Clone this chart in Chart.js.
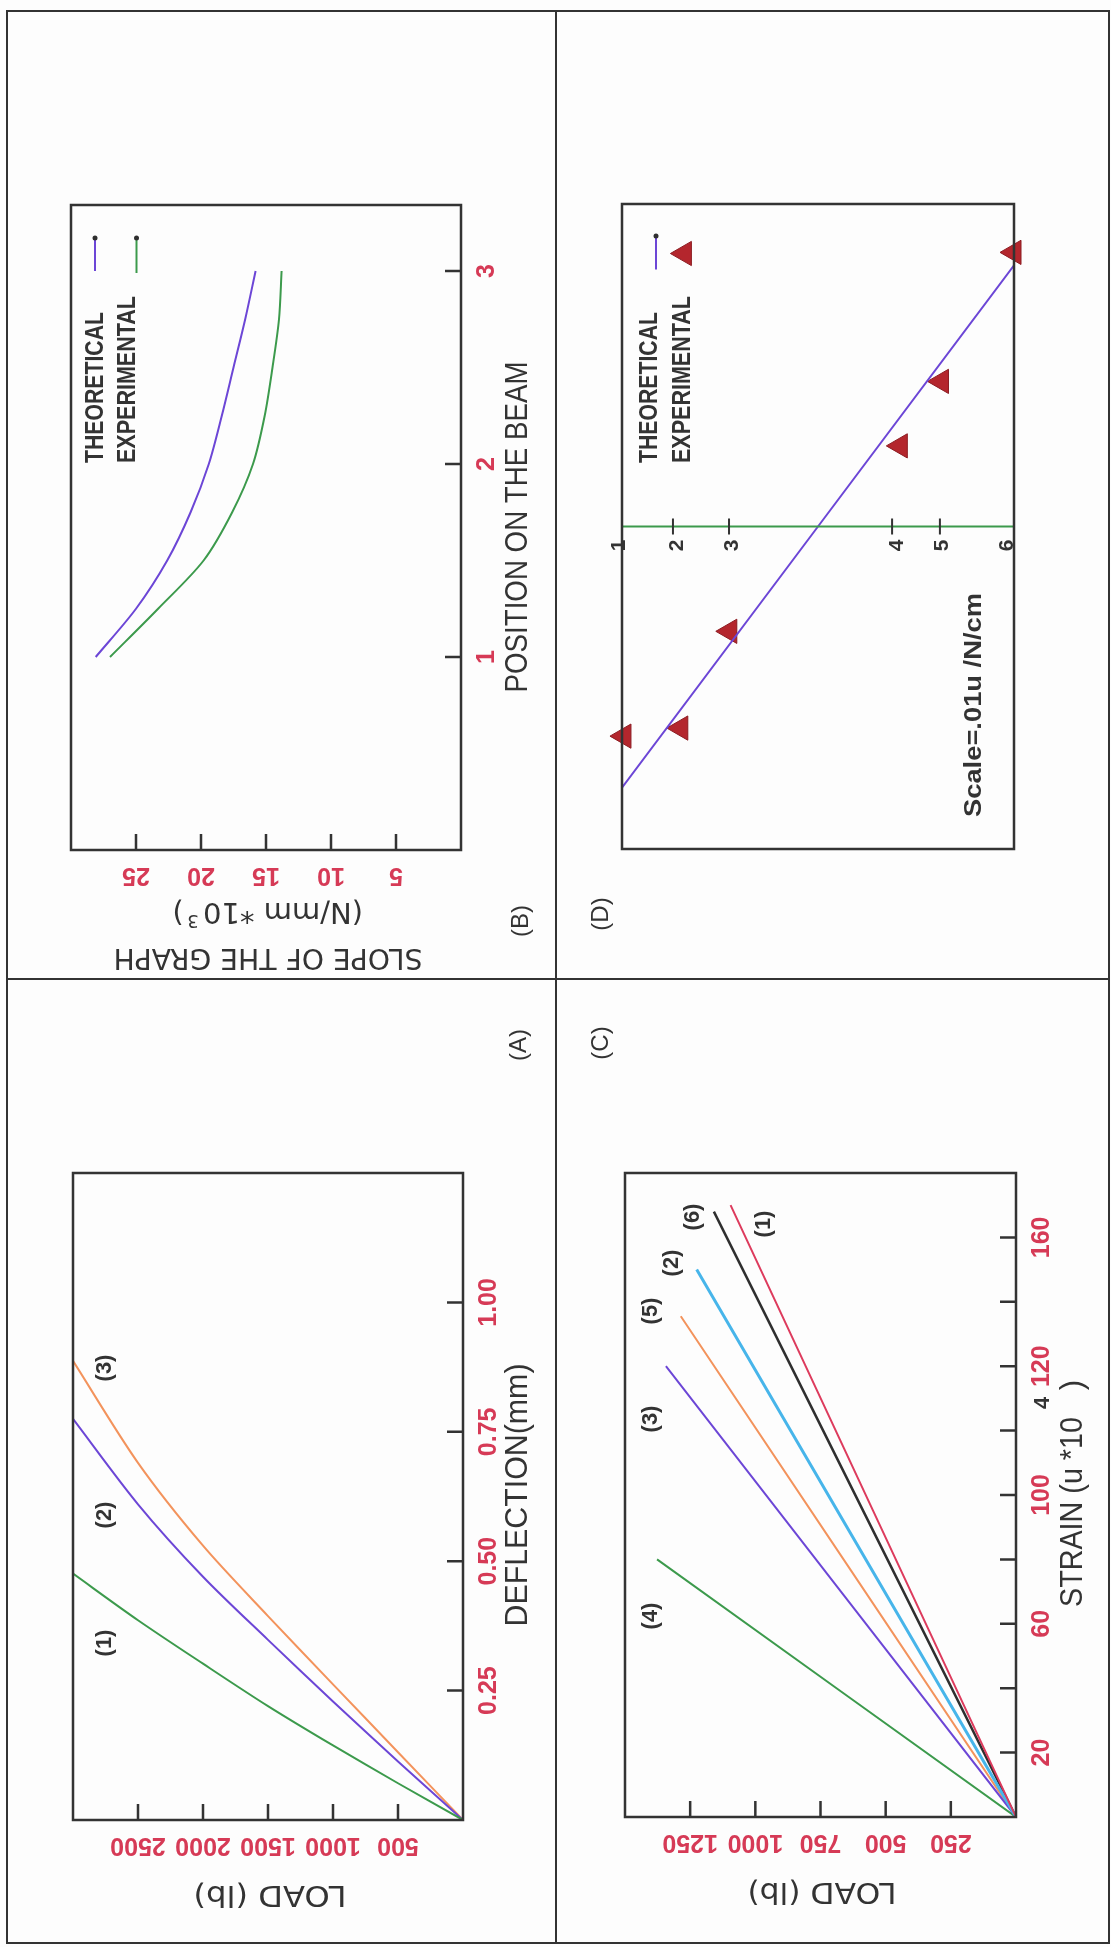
<!DOCTYPE html>
<html>
<head>
<meta charset="utf-8">
<title>Beam test results</title>
<script src="https://cdn.jsdelivr.net/npm/chart.js@4.4.1/dist/chart.umd.min.js"></script>
<style>
  html, body { margin: 0; padding: 0; background: #fff; }
  #sheet { position: relative; width: 1111px; height: 1947px; overflow: hidden; background: #fdfdfd; }
  .rule { position: absolute; background: #333; }
  #sheet canvas { position: absolute; }
</style>
</head>
<body>
<div id="sheet">
  <div class="rule" style="left:6px; top:10px; width:1104px; height:2px;"></div>
  <div class="rule" style="left:6px; top:1942px; width:1104px; height:2px;"></div>
  <div class="rule" style="left:6px; top:10px; width:2px; height:1934px;"></div>
  <div class="rule" style="left:1108px; top:10px; width:2px; height:1934px;"></div>
  <div class="rule" style="left:555px; top:10px; width:2px; height:1934px;"></div>
  <div class="rule" style="left:6px; top:978px; width:1104px; height:2px;"></div>
  <canvas id="panelB" width="556" height="980" style="left:0; top:0;"></canvas>
  <canvas id="panelD" width="555" height="980" style="left:556px; top:0;"></canvas>
  <canvas id="panelA" width="556" height="967" style="left:0; top:980px;"></canvas>
  <canvas id="panelC" width="555" height="967" style="left:556px; top:980px;"></canvas>
</div>
<script>
// (A) load against deflection, three beams
const LOAD_A = [0, 500, 1000, 1500, 2000, 2500, 3000];
const DEFLECTION_1 = [0, 0.071, 0.144, 0.220, 0.302, 0.386, 0.476];
const DEFLECTION_2 = [0, 0.113, 0.229, 0.348, 0.470, 0.610, 0.775];
const DEFLECTION_3 = [0, 0.131, 0.262, 0.394, 0.530, 0.690, 0.887];
const LOAD_A_TICKS = [500, 1000, 1500, 2000, 2500];
const DEFLECTION_TICKS = [0.25, 0.5, 0.75, 1.0];
const DEFLECTION_TICK_LABELS = ['0.25', '0.50', '0.75', '1.00'];

// (B) slope of the load-deflection graph along the beam
const BEAM_POSITION = [1, 1.25, 1.5, 1.75, 2, 2.25, 2.5, 2.75, 3];
const SLOPE_THEORETICAL = [28.1, 25.0, 22.6, 20.8, 19.4, 18.4, 17.5, 16.6, 15.8];
const SLOPE_EXPERIMENTAL = [27.0, 23.3, 19.8, 17.6, 16.0, 15.1, 14.5, 14.0, 13.8];
const SLOPE_TICKS = [5, 10, 15, 20, 25];
const POSITION_TICKS = [1, 2, 3];

// (C) load against strain for gauges (1)..(6)
const GAUGE_NAMES = ['(1)', '(2)', '(3)', '(4)', '(5)', '(6)'];
const GAUGE_MAX_LOAD = [1095, 1225, 1343, 1377, 1286, 1159];
const GAUGE_MAX_STRAIN = [190, 170, 140, 80, 155.5, 188];
const LOAD_C_TICKS = [250, 500, 750, 1000, 1250];
const STRAIN_TICKS = [20, 40, 60, 80, 100, 120, 140, 160, 180];
const STRAIN_TICK_LABELS = ['20', '', '60', '', '100', '', '120', '', '160'];

// (D) strain across the depth of the section
const GAUGE_DEPTH = [0, 13, 27.3, 68.9, 81.1, 99.5];
const GAUGE_LABELS = ['1', '2', '3', '4', '5', '6'];
const THEORY_DEPTH = [0, 100];
const THEORY_STRAIN = [-8.1, 8.1];
const TEST_DEPTH = [0.5, 15, 27.5, 71, 81.5, 100];
const TEST_STRAIN = [-6.5, -6.25, -3.25, 2.5, 4.5, 8.5];

const INK = '#333333';
const RED = '#d63a56';
const GREEN = '#3c9a4c';
const PURPLE = '#6c46d6';
const ORANGE = '#f3935c';
const CYAN = '#47b5ea';
const DARK = '#2f2f2f';
const CRIMSON = '#dd3b5d';
const TRIANGLE = '#b4262d';

const FONT_TICK = 'bold 25px "Liberation Sans", Arial, sans-serif';
const FONT_TITLE = '31px "Liberation Sans", Arial, sans-serif';
const FONT_FLIP = '29px "DejaVu Sans", sans-serif';
const FONT_LEGEND = 'bold 26px "Liberation Sans", Arial, sans-serif';
const FONT_PANEL = '24px "Liberation Sans", Arial, sans-serif';
const FONT_CURVE = 'bold 22px "Liberation Sans", Arial, sans-serif';
const FONT_GAUGE = 'bold 21px "Liberation Sans", Arial, sans-serif';
const FONT_SUP = '18px "DejaVu Sans", sans-serif';
const FONT_EXP = 'bold 22px "Liberation Sans", Arial, sans-serif';
const FONT_SCALE = 'bold 24px "Liberation Sans", Arial, sans-serif';
const TICK_LEN = 16;

function say(ctx, str, x, y, o) {
    ctx.save();
    ctx.translate(x, y);
    if (o.angle) ctx.rotate(o.angle * Math.PI / 180);
    ctx.font = o.font;
    ctx.fillStyle = o.color || INK;
    ctx.textAlign = o.align || 'center';
    ctx.textBaseline = 'middle';
    if (o.width) ctx.scale(o.width / ctx.measureText(str).width, 1);
    ctx.fillText(str, 0, 0);
    ctx.restore();
}

// box, inward ticks on the bottom and right edges, red tick labels
function frame(chart, ax) {
    const ctx = chart.ctx, a = chart.chartArea;
    const xs = chart.scales.x, ys = chart.scales.y;
    ctx.save();
    ctx.strokeStyle = INK;
    ctx.lineWidth = 2.5;
    ctx.strokeRect(a.left, a.top, a.right - a.left, a.bottom - a.top);
    if (ax) {
        ctx.beginPath();
        ax.xTicks.forEach(v => {
            const p = xs.getPixelForValue(v);
            ctx.moveTo(p, a.bottom);
            ctx.lineTo(p, a.bottom - TICK_LEN);
        });
        ax.yTicks.forEach(v => {
            const p = ys.getPixelForValue(v);
            ctx.moveTo(a.right, p);
            ctx.lineTo(a.right - TICK_LEN, p);
        });
        ctx.stroke();
        ax.xTicks.forEach((v, i) => {
            say(ctx, ax.xLabels[i], xs.getPixelForValue(v), a.bottom + 25, { font: FONT_TICK, color: RED, angle: 180 });
        });
        ax.yTicks.forEach((v, i) => {
            if (ax.yLabels[i]) say(ctx, ax.yLabels[i], a.right + 26, ys.getPixelForValue(v), { font: FONT_TICK, color: RED, angle: -90 });
        });
    }
    ctx.restore();
}

// free text given in sheet coordinates
function notes(chart, ox, oy, list) {
    const ctx = chart.ctx;
    ctx.save();
    ctx.translate(-ox, -oy);
    list.forEach(n => say(ctx, n.text, n.x, n.y, n));
    ctx.restore();
}

function legendLine(ctx, x, y1, y2, color, dot) {
    ctx.save();
    ctx.strokeStyle = color;
    ctx.lineWidth = 2;
    ctx.beginPath();
    ctx.moveTo(x, y1);
    ctx.lineTo(x, y2);
    ctx.stroke();
    if (dot) {
        ctx.fillStyle = DARK;
        ctx.beginPath();
        ctx.arc(x, y1, 2.5, 0, Math.PI * 2);
        ctx.fill();
    }
    ctx.restore();
}

function curve(xs, ys, color, width) {
    return {
        data: xs.map((x, i) => ({ x: x, y: ys[i] })),
        showLine: true,
        borderColor: color,
        borderWidth: width || 2,
        pointRadius: 0,
        tension: 0.3,
        fill: false
    };
}

function panel(id, ox, oy, pad, scales, datasets, decorate) {
    return new Chart(document.getElementById(id), {
        type: 'scatter',
        data: { datasets: datasets },
        options: {
            responsive: false,
            animation: false,
            layout: { padding: pad },
            plugins: { legend: { display: false }, tooltip: { enabled: false } },
            scales: {
                x: Object.assign({ type: 'linear', display: false }, scales.x),
                y: Object.assign({ type: 'linear', display: false }, scales.y)
            }
        },
        plugins: [{ id: 'decor', afterDatasetsDraw(chart) { decorate(chart, ox, oy); } }]
    });
}

// (B)
panel('panelB', 0, 0, { left: 71, top: 205, right: 95, bottom: 130 },
    { x: { min: 0, max: 30, reverse: true }, y: { min: 0, max: 3.342 } },
    [
        curve(SLOPE_THEORETICAL, BEAM_POSITION, PURPLE),
        curve(SLOPE_EXPERIMENTAL, BEAM_POSITION, GREEN)
    ],
    (chart, ox, oy) => {
        frame(chart, {
            xTicks: SLOPE_TICKS, xLabels: SLOPE_TICKS.map(String),
            yTicks: POSITION_TICKS, yLabels: POSITION_TICKS.map(String)
        });
        notes(chart, ox, oy, [
            { text: 'POSITION ON THE BEAM', x: 518, y: 527, angle: -90, font: FONT_TITLE, width: 331 },
            { text: '(B)', x: 521, y: 921, angle: -90, font: FONT_PANEL },
            { text: 'SLOPE OF THE GRAPH', x: 268, y: 957, angle: 180, font: FONT_FLIP, width: 309 },
            { text: '(N/mm *10', x: 283, y: 911, angle: 180, font: FONT_FLIP, width: 160 },
            { text: '3', x: 193, y: 920, angle: 180, font: FONT_SUP },
            { text: ')', x: 178, y: 911, angle: 180, font: FONT_FLIP },
            { text: 'THEORETICAL', x: 96, y: 463, angle: -90, align: 'left', font: FONT_LEGEND, width: 151 },
            { text: 'EXPERIMENTAL', x: 128, y: 463, angle: -90, align: 'left', font: FONT_LEGEND, width: 167 }
        ]);
        const ctx = chart.ctx;
        ctx.save();
        ctx.translate(-ox, -oy);
        legendLine(ctx, 95, 238, 271, PURPLE, true);
        legendLine(ctx, 136.5, 238, 273, GREEN, true);
        ctx.restore();
    });

// (D)
panel('panelD', 556, 0, { left: 66, top: 204, right: 97, bottom: 131 },
    { x: { min: 0, max: 100 }, y: { min: -10, max: 10 } },
    [
        curve([0, 100], [0, 0], GREEN),
        curve(THEORY_DEPTH, THEORY_STRAIN, PURPLE),
        {
            data: TEST_DEPTH.map((x, i) => ({ x: x, y: TEST_STRAIN[i] })),
            pointStyle: 'triangle',
            rotation: -90,
            pointRadius: 14,
            backgroundColor: TRIANGLE,
            borderColor: '#8c1c22',
            borderWidth: 1,
            clip: false
        }
    ],
    (chart, ox, oy) => {
        frame(chart, null);
        const ctx = chart.ctx;
        const xs = chart.scales.x, y0 = chart.scales.y.getPixelForValue(0);
        const dx = [-3, 4, 3, 5, 2, -5];
        ctx.save();
        ctx.strokeStyle = INK;
        ctx.lineWidth = 2;
        ctx.beginPath();
        GAUGE_DEPTH.slice(1, -1).forEach(d => {
            const p = xs.getPixelForValue(d);
            ctx.moveTo(p, y0 - 8);
            ctx.lineTo(p, y0 + 8);
        });
        ctx.stroke();
        GAUGE_DEPTH.forEach((d, i) => {
            say(ctx, GAUGE_LABELS[i], xs.getPixelForValue(d) + dx[i], y0 + 19, { font: FONT_GAUGE, angle: -90 });
        });
        ctx.restore();
        notes(chart, ox, oy, [
            { text: 'THEORETICAL', x: 650, y: 463, angle: -90, align: 'left', font: FONT_LEGEND, width: 151 },
            { text: 'EXPERIMENTAL', x: 683, y: 463, angle: -90, align: 'left', font: FONT_LEGEND, width: 167 },
            { text: 'Scale=.01u /N/cm', x: 974, y: 705, angle: -90, font: FONT_SCALE, width: 224 },
            { text: '(D)', x: 601, y: 914, angle: -90, font: FONT_PANEL }
        ]);
        ctx.save();
        ctx.translate(-ox, -oy);
        legendLine(ctx, 656, 236, 269.5, PURPLE, true);
        ctx.fillStyle = TRIANGLE;
        ctx.strokeStyle = '#8c1c22';
        Chart.helpers.drawPoint(ctx, { pointStyle: 'triangle', radius: 14, rotation: -90, borderWidth: 1 }, 684.4, 253.5);
        ctx.restore();
    });

// (A)
panel('panelA', 0, 980, { left: 73, top: 193, right: 93, bottom: 127 },
    { x: { min: 0, max: 3000, reverse: true }, y: { min: 0, max: 1.25 } },
    [
        curve(LOAD_A, DEFLECTION_1, GREEN),
        curve(LOAD_A, DEFLECTION_2, PURPLE),
        curve(LOAD_A, DEFLECTION_3, ORANGE)
    ],
    (chart, ox, oy) => {
        frame(chart, {
            xTicks: LOAD_A_TICKS, xLabels: LOAD_A_TICKS.map(String),
            yTicks: DEFLECTION_TICKS, yLabels: DEFLECTION_TICK_LABELS
        });
        notes(chart, ox, oy, [
            { text: 'DEFLECTION(mm)', x: 518, y: 1495, angle: -90, font: FONT_TITLE, width: 263 },
            { text: '(A)', x: 519, y: 1045, angle: -90, font: FONT_PANEL },
            { text: 'LOAD (lb)', x: 270, y: 1894, angle: 180, font: FONT_FLIP, width: 153 },
            { text: '(1)', x: 105, y: 1643, angle: -90, font: FONT_CURVE },
            { text: '(2)', x: 105, y: 1515, angle: -90, font: FONT_CURVE },
            { text: '(3)', x: 105, y: 1368, angle: -90, font: FONT_CURVE }
        ]);
    });

// (C)
const GAUGE_COLORS = [CRIMSON, CYAN, PURPLE, GREEN, ORANGE, DARK];
const GAUGE_WIDTHS = [2, 3, 2, 2, 2, 2.5];
const GAUGE_NOTE_AT = [[764, 1224], [672, 1263], [651, 1419], [651, 1616], [651, 1311], [693, 1217]];
panel('panelC', 556, 980, { left: 69, top: 193, right: 95, bottom: 130 },
    { x: { min: 0, max: 1500, reverse: true }, y: { min: 0, max: 200 } },
    GAUGE_NAMES.map((n, i) => curve([0, GAUGE_MAX_LOAD[i]], [0, GAUGE_MAX_STRAIN[i]], GAUGE_COLORS[i], GAUGE_WIDTHS[i])),
    (chart, ox, oy) => {
        frame(chart, {
            xTicks: LOAD_C_TICKS, xLabels: LOAD_C_TICKS.map(String),
            yTicks: STRAIN_TICKS, yLabels: STRAIN_TICK_LABELS
        });
        notes(chart, ox, oy, [
            { text: 'STRAIN (u *10', x: 1073, y: 1512, angle: -90, font: FONT_TITLE, width: 190 },
            { text: '4', x: 1043, y: 1403, angle: -90, font: FONT_EXP },
            { text: ')', x: 1073, y: 1385, angle: -90, font: FONT_TITLE },
            { text: '(C)', x: 601, y: 1043, angle: -90, font: FONT_PANEL },
            { text: 'LOAD (lb)', x: 822, y: 1891, angle: 180, font: FONT_FLIP, width: 149 }
        ].concat(GAUGE_NAMES.map((n, i) => ({
            text: n, x: GAUGE_NOTE_AT[i][0], y: GAUGE_NOTE_AT[i][1], angle: -90, font: FONT_CURVE
        }))));
    });
</script>
</body>
</html>
